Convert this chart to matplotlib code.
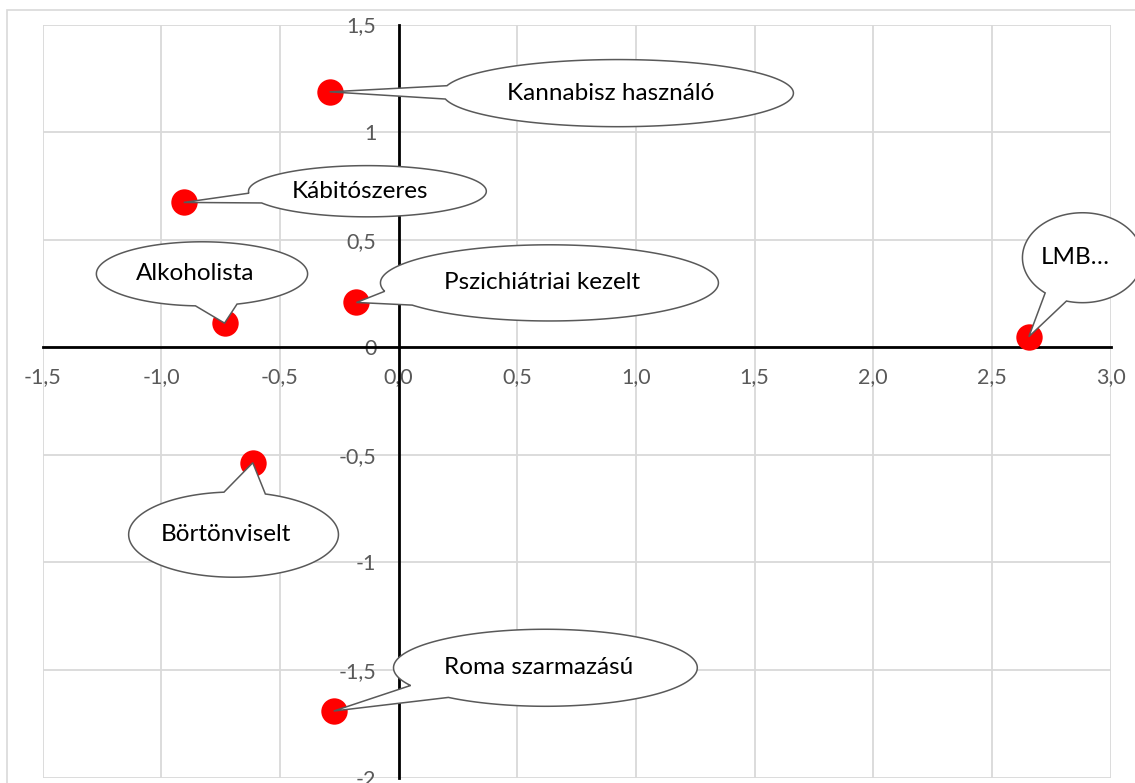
import numpy as np
import matplotlib
matplotlib.use("Agg")
import matplotlib.pyplot as plt
from matplotlib.patches import Polygon, Rectangle
from matplotlib.ticker import FuncFormatter, MultipleLocator

plt.rcParams['font.family'] = ['Lato', 'DejaVu Sans']

# group positions on the two dimensions
labels = ['Kannabisz használó', 'Kábitószeres', 'Alkoholista', 'Pszichiátriai kezelt',
          'LMB…', 'Börtönviselt', 'Roma szarmazású']
dim1 = [-0.29, -0.905, -0.733, -0.177, 2.656, -0.614, -0.273]
dim2 = [1.187, 0.673, 0.112, 0.208, 0.049, -0.537, -1.691]

# callout bubbles: centre (x, y) and half width / half height, in axis units
bubbles = [
    (0.925, 1.181, 0.739, 0.156),
    (-0.131, 0.725, 0.501, 0.119),
    (-0.828, 0.341, 0.445, 0.149),
    (0.636, 0.299, 0.712, 0.177),
    (2.882, 0.416, 0.253, 0.209),
    (-0.695, -0.871, 0.442, 0.198),
    (0.619, -1.490, 0.640, 0.179),
]

W, H = 1135, 783
fig = plt.figure(figsize=(W / 100, H / 100), dpi=100)
left, right, top, bottom = 42.5, 1110.5, 24.5, 777.5
ax = fig.add_axes([left / W, (H - bottom) / H, (right - left) / W, (bottom - top) / H])

# chart area frame
fig.patches.append(Rectangle((7 / W, -0.1), 1.2, (H - 10) / H + 0.1, transform=fig.transFigure,
                             fill=False, ec='#D9D9D9', lw=1.2))

ax.set_xlim(-1.5, 3.0)
ax.set_ylim(-2.0, 1.5)
ax.xaxis.set_major_locator(MultipleLocator(0.5))
ax.yaxis.set_major_locator(MultipleLocator(0.5))
ax.xaxis.set_major_formatter(FuncFormatter(lambda v, p: '{:.1f}'.format(v).replace('.', ',')))
ax.yaxis.set_major_formatter(FuncFormatter(lambda v, p: '{:g}'.format(v).replace('.', ',')))
ax.grid(True, color='#D9D9D9', lw=1.3, zorder=0)
ax.set_axisbelow(True)

for s in ['top', 'right']:
    ax.spines[s].set_visible(False)
ax.spines['left'].set_position(('data', 0))
ax.spines['bottom'].set_position(('data', 0))
for s in ['left', 'bottom']:
    ax.spines[s].set_color('black')
    ax.spines[s].set_linewidth(2)
    ax.spines[s].set_zorder(2.5)

ax.tick_params(axis='both', length=0, labelsize=15.5, labelcolor='#595959')
ax.tick_params(axis='x', pad=14)
ax.tick_params(axis='y', pad=16)
for t in ax.get_xticklabels() + ax.get_yticklabels():
    t.set_clip_on(False)

ax.scatter(dim1, dim2, s=19 ** 2, c='#FF0000', linewidths=0, zorder=3, clip_on=False)


def callout(tip_x, tip_y, cx, cy, a, b, text, half=0.2):
    # ellipse outline with a wedge pointing at the marker
    th0 = np.arctan2((tip_y - cy) / b, (tip_x - cx) / a)
    ts = np.linspace(th0 + half, th0 + 2 * np.pi - half, 240)
    xs = np.r_[cx + a * np.cos(ts), tip_x]
    ys = np.r_[cy + b * np.sin(ts), tip_y]
    ax.add_patch(Polygon(np.column_stack([xs, ys]), closed=True, fc='white',
                         ec='#595959', lw=1.1, zorder=4, clip_on=False))
    ax.text(cx - 0.03, cy, text, ha='center', va='center', fontsize=17.5,
            color='black', zorder=5, clip_on=False)


for name, px, py, (cx, cy, a, b) in zip(labels, dim1, dim2, bubbles):
    callout(px, py, cx, cy, a, b, name)

fig.savefig('out.png', dpi=100)
